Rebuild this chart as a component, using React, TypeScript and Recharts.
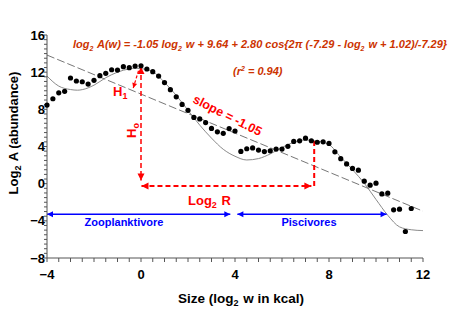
import { ComposedChart, Line, Scatter, XAxis, YAxis, ReferenceLine, Customized } from 'recharts';

// observed log2 abundance per log2 size bin
const sizeBins = [
  -4, -3.75, -3.5, -3.25, -3, -2.75, -2.5, -2.25, -2, -1.75, -1.5, -1.25, -1, -0.75, -0.5, -0.25,
  0, 0.25, 0.5, 0.75, 1, 1.25, 1.5, 1.75, 2, 2.25, 2.5, 2.75, 3, 3.25, 3.5, 3.75,
  4, 4.25, 4.5, 4.75, 5, 5.25, 5.5, 5.75, 6, 6.25, 6.5, 6.75, 7, 7.25, 7.5, 7.75,
  8, 8.25, 8.5, 8.75, 9, 9.25, 9.5, 9.75, 10, 10.25, 10.5, 10.75, 11, 11.25, 11.5,
];
const abundance = [
  8.46, 9.14, 9.78, 9.94, 11.37, 11.05, 10.97, 10.72, 11.12, 11.62, 11.88, 12.26, 12.23, 12.59, 12.48, 12.66,
  12.69, 12.34, 12.05, 11.58, 10.88, 10.12, 9.35, 8.53, 7.89, 7.13, 6.97, 6.57, 5.95, 5.58, 5.42, 5.93,
  5.67, 3.47, 3.76, 3.85, 3.61, 3.45, 3.53, 3.72, 3.72, 4.02, 4.55, 4.61, 4.9, 4.62, 4.46, 4.5,
  4.33, 3.43, 2.69, 2.12, 1.64, 1.45, 0.27, -0.16, 0.05, -1.1, -1.02, -2.82, -2.75, -5.15, -2.67,
];

// fitted curve
const fitSize = [-4, -3.5, -3, -2.7, -2.5, -2, -1.5, -1, -0.5, -0.2, 0, 0.5, 1, 1.5, 2, 2.5, 3, 3.5, 4, 4.5, 5, 5.5, 6, 6.5, 7, 7.4, 8, 8.5, 9, 9.5, 10, 10.5, 11, 11.5, 12];
const fitAbundance = [11.58, 10.5, 10.13, 10.06, 10.12, 10.6, 11.4, 12.0, 12.35, 12.42, 12.38, 12.05, 10.9, 9.5, 7.9, 6.3, 4.9, 3.7, 2.95, 2.55, 2.7, 3.2, 3.9, 4.45, 4.7, 4.62, 4.2, 2.85, 1.5, 0.05, -1.7, -3.4, -4.65, -4.96, -5.05];

// linear trend (slope -1.05)
const trendSize = [-4, 12];
const trendAbundance = [13.84, -2.96];

const xLabels = [-4, 0, 4, 8, 12];
const yLabels = [-8, -4, 0, 4, 8, 12, 16];
const xTicks = Array.from({ length: 33 }, (_, i) => -4 + i * 0.5);
const yTicks = Array.from({ length: 49 }, (_, i) => -8 + i * 0.5);

const dots = sizeBins.map((x, i) => ({ x, y: abundance[i] }));
const fit = fitSize.map((x, i) => ({ x, y: fitAbundance[i] }));
const trend = trendSize.map((x, i) => ({ x, y: trendAbundance[i] }));

const SANS = '"Liberation Sans", Arial, sans-serif';
const RED = '#ff0000';
const BLUE = '#0000ff';
const EQ = '#cc3300';

const fmt = (v: number) => (v < 0 ? `\u2212${-v}` : `${v}`);

function XTick(p: any) {
  const v = p.payload.value;
  if (!xLabels.includes(v)) return <g />;
  return (
    <text x={p.x} y={p.y + 15} textAnchor="middle" fontFamily={SANS} fontWeight="bold" fontSize={13} fill="#000">
      {fmt(v)}
    </text>
  );
}

function YTick(p: any) {
  const v = p.payload.value;
  if (!yLabels.includes(v)) return <g />;
  return (
    <text x={p.x + 3} y={p.y + 4.6} textAnchor="end" fontFamily={SANS} fontWeight="bold" fontSize={13} fill="#000">
      {fmt(v)}
    </text>
  );
}

function arrow(color: string, width: number, dash: string | undefined, start: boolean, end: boolean, head = 6) {
  return (p: any) => {
    const { x1, y1, x2, y2 } = p;
    const a = Math.atan2(y2 - y1, x2 - x1);
    const tri = (x: number, y: number, ang: number) => {
      const bx = x - head * Math.cos(ang);
      const by = y - head * Math.sin(ang);
      const w = head * 0.5;
      return `${x},${y} ${bx + w * Math.sin(ang)},${by - w * Math.cos(ang)} ${bx - w * Math.sin(ang)},${by + w * Math.cos(ang)}`;
    };
    return (
      <g>
        <line x1={x1} y1={y1} x2={x2} y2={y2} stroke={color} strokeWidth={width} strokeDasharray={dash} />
        {start && <polygon points={tri(x1, y1, a + Math.PI)} fill={color} />}
        {end && <polygon points={tri(x2, y2, a)} fill={color} />}
      </g>
    );
  };
}

const sub = (t: string, size = 8) => (
  <>
    <tspan fontSize={size} dy={3}>{t}</tspan>
    <tspan dy={-3}>{'\u200a'}</tspan>
  </>
);

function Annotations() {
  return (
    <g fontFamily={SANS} fontWeight="bold">
      <text x={73} y={48} fontSize={11} fontStyle="italic" fill={EQ}>
        log{sub('2', 7)} A(w) = -1.05 log{sub('2', 7)} w + 9.64 + 2.80 cos{'{'}2π (-7.29 - log{sub('2', 7)} w + 1.02)/-7.29{'}'}
      </text>
      <text x={233} y={75} fontSize={11} fontStyle="italic" fill={EQ}>
        (r<tspan fontSize={7} dy={-4}>2</tspan><tspan dy={4}> = 0.94)</tspan>
      </text>
      <text x={192} y={102} fontSize={12.5} fill={RED} transform="rotate(27 192 102)">
        slope = -1.05
      </text>
      <text x={113} y={96} fontSize={13} fill={RED}>
        H{sub('1', 9)}
      </text>
      <text x={136} y={130} fontSize={13} fill={RED} textAnchor="middle" transform="rotate(-90 136 130)">
        H{sub('o', 9)}
      </text>
      <text x={188} y={205} fontSize={13} fill={RED}>
        Log{sub('2', 9)} R
      </text>
      <text x={124} y={226} fontSize={11} fill={BLUE} textAnchor="middle">
        Zooplanktivore
      </text>
      <text x={309} y={226} fontSize={11} fill={BLUE} textAnchor="middle">
        Piscivores
      </text>
      <text x={17.5} y={133} fontSize={13} fill="#000" textAnchor="middle" transform="rotate(-90 17.5 133)">
        Log{sub('2', 9)} A (abundance)
      </text>
      <text x={241} y={303} fontSize={13.5} fill="#000" textAnchor="middle">
        Size (log{sub('2', 9)} w in kcal)
      </text>
    </g>
  );
}

export default function App() {
  return (
    <div style={{ position: 'absolute', left: 0, top: 0, background: '#fff' }}>
      <ComposedChart width={455} height={324} margin={{ top: 35, right: 32, bottom: 36, left: 7 }}>
        <XAxis
          dataKey="x"
          type="number"
          domain={[-4, 12]}
          ticks={xTicks}
          interval={0}
          tick={<XTick />}
          tickSize={4}
          tickMargin={2}
          height={30}
          stroke="#555"
        />
        <YAxis
          type="number"
          domain={[-8, 16]}
          ticks={yTicks}
          interval={0}
          tick={<YTick />}
          tickSize={3}
          tickMargin={2}
          width={40}
          stroke="#555"
        />
        <Line data={trend} dataKey="y" type="linear" stroke="#777" strokeWidth={1} strokeDasharray="8 3" dot={false} isAnimationActive={false} />
        <Line data={fit} dataKey="y" type="monotone" stroke="#8a8a8a" strokeWidth={1} dot={false} isAnimationActive={false} />
        <Scatter
          data={dots}
          dataKey="y"
          isAnimationActive={false}
          shape={(p: any) => <circle cx={p.cx} cy={p.cy} r={2.6} fill="#000" />}
        />
        <ReferenceLine ifOverflow="visible" segment={[{ x: 0, y: 12.55 }, { x: 0, y: 0.35 }]} shape={arrow(RED, 1.5, '5 3', true, true, 7)} />
        <ReferenceLine ifOverflow="visible" segment={[{ x: -0.33, y: 10.3 }, { x: -0.1, y: 12.2 }]} shape={arrow(RED, 1.2, '3 2', true, false, 5)} />
        <ReferenceLine ifOverflow="visible" segment={[{ x: 0.02, y: -0.25 }, { x: 7.25, y: -0.25 }]} shape={arrow(RED, 2, '5 3', true, true, 7)} />
        <ReferenceLine ifOverflow="visible" segment={[{ x: 7.37, y: -0.25 }, { x: 7.37, y: 4.7 }]} shape={arrow(RED, 2, '5 3', false, false)} />
        <ReferenceLine ifOverflow="visible" segment={[{ x: -4, y: -3.3 }, { x: 3.8, y: -3.3 }]} shape={arrow(BLUE, 1.5, undefined, true, true, 6)} />
        <ReferenceLine ifOverflow="visible" segment={[{ x: 4.1, y: -3.3 }, { x: 10.45, y: -3.3 }]} shape={arrow(BLUE, 1.5, undefined, true, true, 6)} />
        <Customized component={Annotations} />
      </ComposedChart>
    </div>
  );
}
